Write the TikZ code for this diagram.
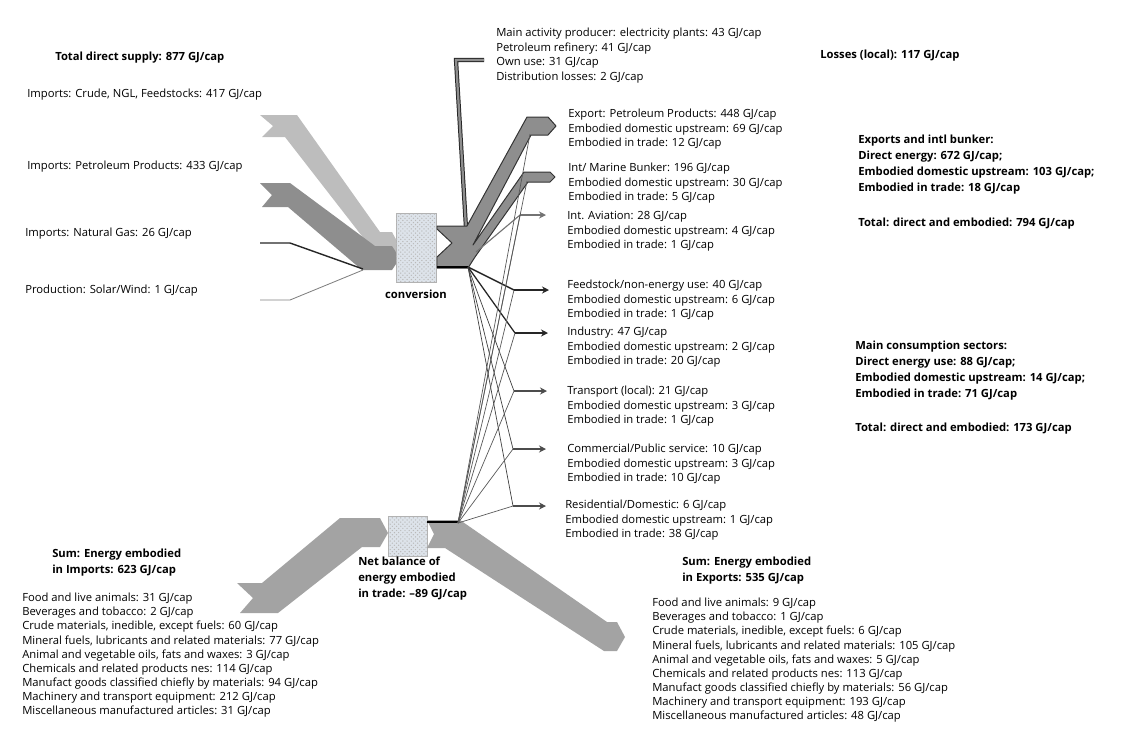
\documentclass[tikz,border=0pt]{standalone}
\usepackage{fontspec}
\setmainfont{Open Sans}
\usepackage{tikz}
\usetikzlibrary{arrows.meta,patterns,calc}

\definecolor{crudegray}{HTML}{BDBDBD}
\definecolor{petrogray}{HTML}{8E8E8E}
\definecolor{tradegray}{HTML}{A3A3A3}
\definecolor{boxfill}{HTML}{DDE3EA}

\tikzset{
  lbl/.style={anchor=north west,inner sep=0pt,align=left,font=\fontsize{8}{10.3}\selectfont},
  listlbl/.style={lbl,font=\fontsize{8}{10}\selectfont},
  head/.style={lbl,font=\fontsize{8}{11.4}\selectfont\bfseries},
  convbox/.style={draw=gray!60,fill=boxfill,postaction={pattern=crosshatch dots,pattern color=gray!55}},
  band/.style={draw=black!80,line width=0.7pt,line join=round},
  mainflow/.style={line width=1.1pt,black!85},
  sideflow/.style={line width=0.5pt,black!75},
  tradeflow/.style={line width=0.5pt,black!65},
  sectarrow/.style={-{Stealth[length=5pt,width=5pt]}},
}

\begin{document}
\begin{tikzpicture}[x=0.025cm,y=-0.025cm]
    \useasboundingbox (0,0) rectangle (1129,733);

    \fill[crudegray] (260,115) -- (297,115) -- (380,232) -- (392,232) -- (399,245) -- (392,258) -- (379,258) -- (285,137) -- (262,137) -- (273,126) -- cycle;
    \fill[petrogray] (260,183) -- (290,183) -- (375,246) -- (392,246) -- (400,258) -- (392,270) -- (362,270) -- (288,207) -- (262,207) -- (272,195) -- cycle;
    \draw[line width=1pt,black!85] (260,243) -- (290,243) -- (363,269);
    \draw[line width=0.6pt,black!50] (260,300) -- (290,300) -- (363,270);

    \draw[convbox] (396,213) rectangle (436,282);
    \node[head,anchor=north] (convlbl) at (416,290) {conversion};

    \draw[line width=0.7pt,black!85,double=petrogray,double distance=1.6pt] (466,228) -- (456,60) -- (484,60);
    \draw[band,fill=petrogray] (437,226) -- (467,226) -- (527,117) -- (548,117) -- (556,126) -- (548,135) -- (531,135) -- (473,245) -- (524,172) -- (550,172) -- (555,177) -- (550,182) -- (528,182) -- (475,257) -- (468,268) -- (437,268) -- (437,257) -- (452,243) -- (437,229) -- cycle;
    \draw[line width=1.3pt,black] (437,267) -- (468,267);

    \fill[tradegray] (237,583) -- (262,583) -- (340,518) -- (380,518) -- (388,533) -- (380,547) -- (362,547) -- (278,613) -- (240,613) -- (253,598) -- cycle;
    \draw[convbox] (388,516) rectangle (427,556);
    \fill[tradegray] (427,520) -- (460,520) -- (607,622) -- (617,622) -- (625,637) -- (617,651) -- (604,651) -- (445,548) -- (427,548) -- (434,534) -- cycle;
    \draw[line width=1.3pt,black] (427,522) -- (458,522);

    \coordinate (src) at (468,267);
    \coordinate (trd) at (458,523);
    \coordinate (avband) at (476,252);
    \coordinate (avJ) at (520,215);
    \coordinate (avE) at (546,215);
    \coordinate (bunkJ) at (527,181);
    \coordinate (expJ) at (530,134);
    \coordinate (feedJ) at (514,290);
    \coordinate (feedE) at (549,290);
    \coordinate (indJ) at (515,333);
    \coordinate (indE) at (548,333);
    \coordinate (traJ) at (514,391);
    \coordinate (traE) at (547,391);
    \coordinate (comJ) at (513,449);
    \coordinate (comE) at (546,449);
    \coordinate (resJ) at (513,506);
    \coordinate (resE) at (546,506);

    \draw[line width=0.8pt,black!55] (avband) -- (avJ);
    \draw[line width=0.8pt,black!55,sectarrow] (avJ) -- (avE);

    \draw[mainflow] (src) -- (feedJ);
    \draw[line width=0.9pt,black!85] (src) -- (indJ);
    \draw[sideflow] (src) -- (traJ);
    \draw[sideflow] (src) -- (comJ);
    \draw[sideflow] (src) -- (resJ);

    \draw[tradeflow] (trd) -- (expJ);
    \draw[tradeflow] (trd) -- (bunkJ);
    \draw[tradeflow] (trd) -- (avJ);
    \draw[tradeflow] (trd) -- (feedJ);
    \draw[tradeflow] (trd) -- (indJ);
    \draw[tradeflow] (trd) -- (traJ);
    \draw[tradeflow] (trd) -- (comJ);
    \draw[tradeflow] (trd) -- (resJ);

    \draw[mainflow,sectarrow] (feedJ) -- (feedE);
    \draw[mainflow,sectarrow] (indJ) -- (indE);
    \draw[line width=0.8pt,black!70,sectarrow] (traJ) -- (traE);
    \draw[line width=0.8pt,black!70,sectarrow] (comJ) -- (comE);
    \draw[line width=0.8pt,black!70,sectarrow] (resJ) -- (resE);

    \node[head] (supply) at (55,52) {Total direct supply: 877 GJ/cap};
    \node[lbl] (crude) at (27,89) {Imports: Crude, NGL, Feedstocks: 417 GJ/cap};
    \node[lbl] (petro) at (27,161) {Imports: Petroleum Products: 433 GJ/cap};
    \node[lbl] (gas) at (25,228) {Imports: Natural Gas: 26 GJ/cap};
    \node[lbl] (solar) at (25,285) {Production: Solar/Wind: 1 GJ/cap};

    \node[lbl] (losslist) at (496,28) {Main activity producer: electricity plants: 43 GJ/cap\\Petroleum refinery: 41 GJ/cap\\Own use: 31 GJ/cap\\Distribution losses: 2 GJ/cap};
    \node[head] (losses) at (820,50) {Losses (local): 117 GJ/cap};

    \node[lbl] (export) at (568,109) {Export: Petroleum Products: 448 GJ/cap\\Embodied domestic upstream: 69 GJ/cap\\Embodied in trade: 12 GJ/cap};
    \node[lbl] (bunker) at (568,163) {Int/ Marine Bunker: 196 GJ/cap\\Embodied domestic upstream: 30 GJ/cap\\Embodied in trade: 5 GJ/cap};
    \node[lbl] (aviation) at (567,211) {Int. Aviation: 28 GJ/cap\\Embodied domestic upstream: 4 GJ/cap\\Embodied in trade: 1 GJ/cap};
    \node[lbl] (feedstock) at (567,280) {Feedstock/non-energy use: 40 GJ/cap\\Embodied domestic upstream: 6 GJ/cap\\Embodied in trade: 1 GJ/cap};
    \node[lbl] (industry) at (567,327) {Industry: 47 GJ/cap\\Embodied domestic upstream: 2 GJ/cap\\Embodied in trade: 20 GJ/cap};
    \node[lbl] (transport) at (567,386) {Transport (local): 21 GJ/cap\\Embodied domestic upstream: 3 GJ/cap\\Embodied in trade: 1 GJ/cap};
    \node[lbl] (commercial) at (567,444) {Commercial/Public service: 10 GJ/cap\\Embodied domestic upstream: 3 GJ/cap\\Embodied in trade: 10 GJ/cap};
    \node[lbl] (residential) at (565,500) {Residential/Domestic: 6 GJ/cap\\Embodied domestic upstream: 1 GJ/cap\\Embodied in trade: 38 GJ/cap};

    \node[head] (exportsum) at (858,135) {Exports and intl bunker:\\Direct energy: 672 GJ/cap;\\Embodied domestic upstream: 103 GJ/cap;\\Embodied in trade: 18 GJ/cap};
    \node[head] (exporttot) at (858,218) {Total: direct and embodied: 794 GJ/cap};
    \node[head] (sectorsum) at (855,341) {Main consumption sectors:\\Direct energy use: 88 GJ/cap;\\Embodied domestic upstream: 14 GJ/cap;\\Embodied in trade: 71 GJ/cap};
    \node[head] (sectortot) at (855,423) {Total: direct and embodied: 173 GJ/cap};

    \node[head] (importsum) at (52,549) {Sum: Energy embodied\\in Imports: 623 GJ/cap};
    \node[listlbl] (importlist) at (22,593) {Food and live animals: 31 GJ/cap\\Beverages and tobacco: 2 GJ/cap\\Crude materials, inedible, except fuels: 60 GJ/cap\\Mineral fuels, lubricants and related materials: 77 GJ/cap\\Animal and vegetable oils, fats and waxes: 3 GJ/cap\\Chemicals and related products nes: 114 GJ/cap\\Manufact goods classified chiefly by materials: 94 GJ/cap\\Machinery and transport equipment: 212 GJ/cap\\Miscellaneous manufactured articles: 31 GJ/cap};
    \node[head] (netbal) at (358,557) {Net balance of\\energy embodied\\in trade: --89 GJ/cap};
    \node[head] (exportembsum) at (682,557) {Sum: Energy embodied\\in Exports: 535 GJ/cap};
    \node[listlbl] (exportlist) at (652,598) {Food and live animals: 9 GJ/cap\\Beverages and tobacco: 1 GJ/cap\\Crude materials, inedible, except fuels: 6 GJ/cap\\Mineral fuels, lubricants and related materials: 105 GJ/cap\\Animal and vegetable oils, fats and waxes: 5 GJ/cap\\Chemicals and related products nes: 113 GJ/cap\\Manufact goods classified chiefly by materials: 56 GJ/cap\\Machinery and transport equipment: 193 GJ/cap\\Miscellaneous manufactured articles: 48 GJ/cap};
  \end{tikzpicture}
\end{document}
